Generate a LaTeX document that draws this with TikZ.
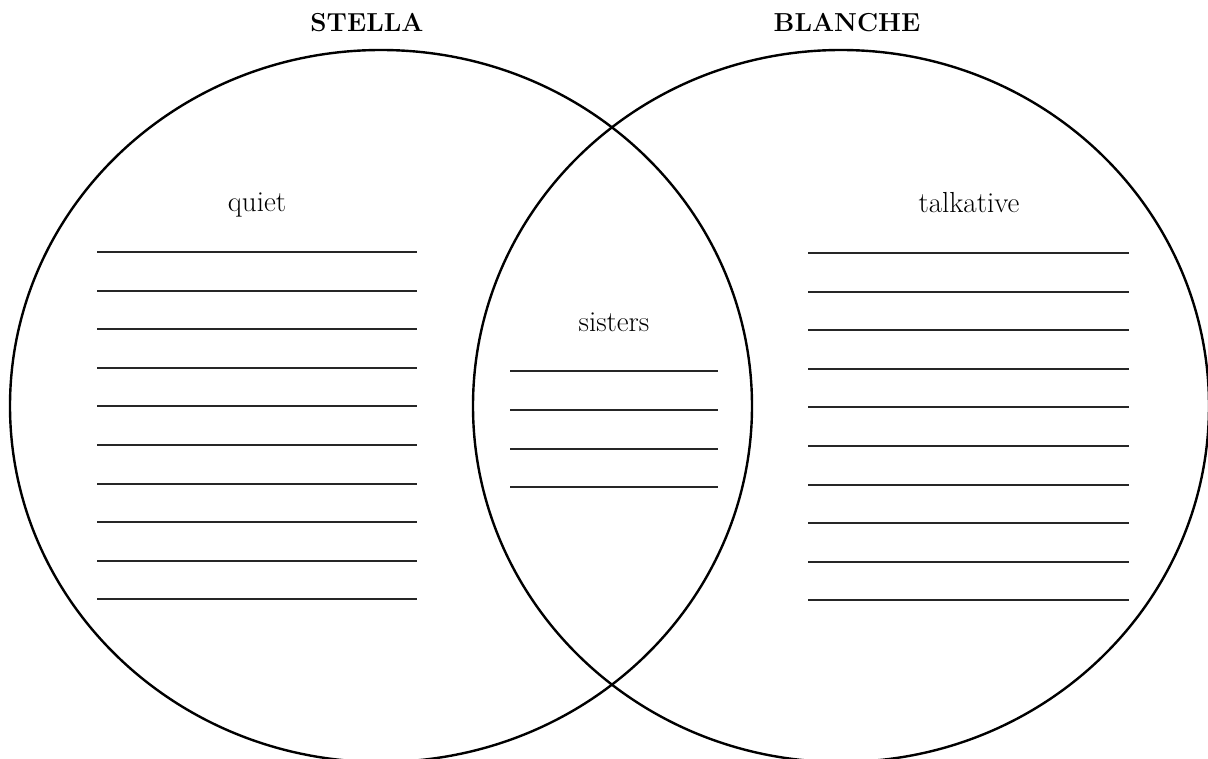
\documentclass[tikz,border=0pt]{standalone}
\usepackage{fontspec}
\usepackage{tikz}
\usetikzlibrary{shapes.geometric}
\tikzset{
  setbox/.style={
    ellipse, draw=black, line width=2.4pt,
    minimum width=#1, minimum height=712pt,
    inner sep=0pt
  },
  setbox/.default=742pt,
  setname/.style={font=\fontsize{26}{30}\selectfont\bfseries, anchor=base},
  traitlabel/.style={font=\fontsize{29}{34}\selectfont, anchor=base},
  blankline/.style={draw=black!85, line width=2pt},
}
\begin{document}
\begin{tikzpicture}[x=1pt,y=1pt]
  \clip (0,0) rectangle (1208,-759);
  % the two sets
  \node[setbox] (stella) at (381,-406) {};
  \node[setbox=736pt] (blanche) at (841,-406) {};
  \node[setname] (stellaname) at (367,-32) {STELLA};
  \node[setname] (blanchename) at (847,-32) {BLANCHE};
  % headings inside
  \node[traitlabel] (quiet) at (257,-212) {quiet};
  \node[traitlabel] (sisters) at (614,-332) {sisters};
  \node[traitlabel] (talkative) at (969,-213) {talkative};
  % lines to write on
  \foreach \k in {0,...,9} {
    \draw[blankline] (97,{-round(252+38.6*\k)}) -- (417,{-round(252+38.6*\k)});
    \draw[blankline] (808,{-round(253+38.6*\k)}) -- (1129,{-round(253+38.6*\k)});
  }
  \foreach \k in {0,...,3}
    \draw[blankline] (510,{-round(371+38.8*\k)}) -- (718,{-round(371+38.8*\k)});
\end{tikzpicture}
\end{document}
